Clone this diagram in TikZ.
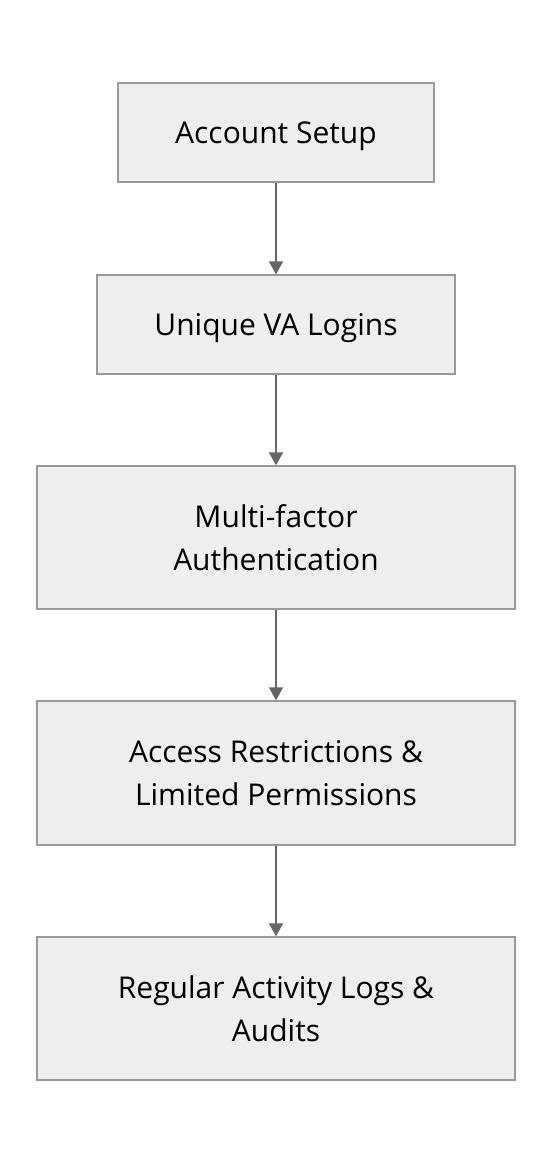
\documentclass[tikz,border=0pt]{standalone}
\usepackage{fontspec}
\setmainfont{Open Sans}
\usetikzlibrary{arrows.meta}
\definecolor{boxfill}{HTML}{EEEEEE}
\definecolor{boxline}{HTML}{999999}
\definecolor{arrowcol}{HTML}{666666}
\begin{document}
\begin{tikzpicture}[x=1pt,y=1pt,
  stepbox/.style={draw=boxline, fill=boxfill, line width=1.3pt, inner sep=0pt,
    align=center, font=\fontsize{30}{43}\selectfont, text=black, text depth=0pt},
  flow/.style={draw=arrowcol, line width=1.6pt, -{Triangle[length=13pt,width=14pt]}}]
\useasboundingbox (0,0) rectangle (552,-1164);
\node[stepbox, minimum width=316pt, minimum height=99pt] (a) at (276,-132.5) {Account Setup};
\node[stepbox, minimum width=358pt, minimum height=99pt] (b) at (276,-324.5) {Unique VA Logins};
\node[stepbox, minimum width=478pt, minimum height=143pt] (c) at (276,-537.5) {Multi-factor\\ Authentication};
\node[stepbox, minimum width=478pt, minimum height=144pt] (d) at (276,-773) {Access Restrictions \&\\ Limited Permissions};
\node[stepbox, minimum width=478pt, minimum height=143pt] (e) at (276,-1008.5) {Regular Activity Logs \&\\ Audits};
\draw[flow] (a) -- (b);
\draw[flow] (b) -- (c);
\draw[flow] (c) -- (d);
\draw[flow] (d) -- (e);
\end{tikzpicture}
\end{document}
